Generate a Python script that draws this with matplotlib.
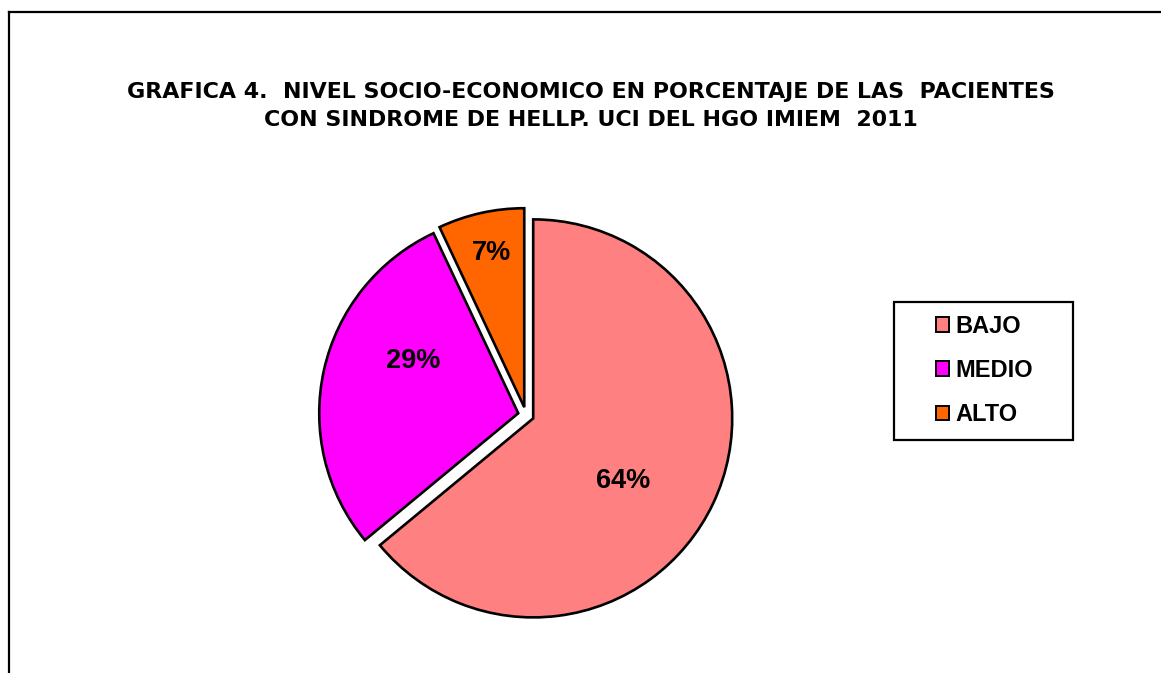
import matplotlib
matplotlib.use("Agg")
import matplotlib.pyplot as plt
from matplotlib.lines import Line2D
from matplotlib.patches import Rectangle, Patch
import numpy as np

categories = ["BAJO", "MEDIO", "ALTO"]
values = [64, 29, 7]
colors = ["#FF8080", "#FF00FF", "#FF6600"]
title_lines = ["GRAFICA 4.  NIVEL SOCIO-ECONOMICO EN PORCENTAJE DE LAS  PACIENTES",
               "CON SINDROME DE HELLP. UCI DEL HGO IMIEM  2011"]

W, H = 1161, 673
fig = plt.figure(figsize=(W / 100, H / 100), dpi=100)
fig.patch.set_facecolor("white")

# border lines (left and top)
fig.add_artist(Line2D([9 / W, 9 / W], [0, 1 - 12 / H], color="black", lw=1.6,
                      transform=fig.transFigure, solid_capstyle="projecting"))
fig.add_artist(Line2D([9 / W, 1], [1 - 12 / H, 1 - 12 / H], color="black", lw=1.6,
                      transform=fig.transFigure, solid_capstyle="projecting"))

# title
renderer = fig.canvas.get_renderer()
t1 = fig.text(591 / W, 1 - 92 / H, title_lines[0], ha="center", va="center",
              family="DejaVu Sans", weight="bold", fontsize=13)
bb = t1.get_window_extent(renderer)
fs = 13 * 927 / bb.width
t1.set_fontsize(fs)
fig.text(591 / W, 1 - 120 / H, title_lines[1], ha="center", va="center",
         family="DejaVu Sans", weight="bold", fontsize=fs)

# pie axes
cx, cy, r = 526, 415, 199
L = 1.1
side = 2 * L * r
ax = fig.add_axes([(cx - side / 2) / W, (H - cy - side / 2) / H, side / W, side / H])
wedges, _ = ax.pie(values, colors=colors, startangle=90, counterclock=False,
                   explode=[0.04] * 3, radius=1,
                   wedgeprops=dict(edgecolor="black", linewidth=1.9))
ax.set_xlim(-L, L)
ax.set_ylim(-L, L)
ax.set_aspect("auto")
ax.axis("off")

# percentage labels (placement like Excel best-fit)
label_pos = [(-34, 0.59), (154.5, 0.63), (102, 0.83)]
for v, (ang, dist) in zip(values, label_pos):
    a = np.deg2rad(ang)
    ax.text(dist * np.cos(a), dist * np.sin(a), f"{v}%", ha="center", va="center",
            family="Liberation Sans", weight="bold", fontsize=19.5)

# legend box
fig.add_artist(Rectangle((894 / W, 1 - 440 / H), 179 / W, 138 / H, fill=False,
                         edgecolor="black", lw=1.6, transform=fig.transFigure))
handles = [Patch(facecolor=c, edgecolor="black", linewidth=1.4) for c in colors]
leg = fig.legend(handles, categories, loc="upper left",
                 bbox_to_anchor=(931 / W, 1 - 310 / H), frameon=False,
                 prop=dict(family="Liberation Sans", weight="bold", size=17),
                 handlelength=0.57, handleheight=0.57, handletextpad=0.25,
                 labelspacing=0.9, borderpad=0.2, borderaxespad=0)

fig.savefig("out.png", dpi=100, facecolor="white")
